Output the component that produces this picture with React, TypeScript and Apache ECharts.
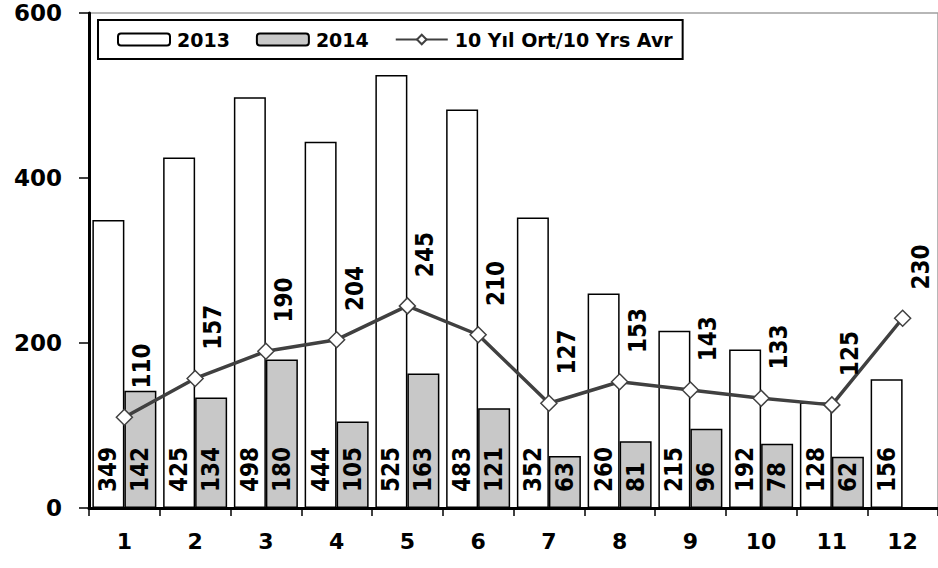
import React, { useEffect, useRef } from "react";
import * as echarts from "echarts";

const months = ["1", "2", "3", "4", "5", "6", "7", "8", "9", "10", "11", "12"];
const series2013 = [349, 425, 498, 444, 525, 483, 352, 260, 215, 192, 128, 156];
const series2014: (number | null)[] = [142, 134, 180, 105, 163, 121, 63, 81, 96, 78, 62, null];
const avg10 = [110, 157, 190, 204, 245, 210, 127, 153, 143, 133, 125, 230];
const yTicks = { min: 0, max: 600, interval: 200 };

const FONT = "DejaVu Sans";
const FONT_COND = "DejaVu Sans Condensed";

export default function App() {
  const ref = useRef<HTMLDivElement>(null);
  useEffect(() => {
    if (!ref.current) return;
    const chart = echarts.init(ref.current, undefined, { renderer: "svg" });
    const barLabel = {
      show: true,
      position: "insideBottom",
      rotate: 90,
      align: "left",
      verticalAlign: "middle",
      distance: 16,
      color: "#000",
      fontFamily: FONT_COND,
      fontWeight: "bold",
      fontSize: 24,
    };
    chart.setOption({
      animation: false,
      backgroundColor: "#fff",
      textStyle: { fontFamily: FONT },
      grid: {
        left: 89,
        right: -2,
        top: 13,
        bottom: 60,
        show: true,
        borderColor: "#a0a0a0",
        borderWidth: 1.5,
        backgroundColor: "transparent",
      },
      legend: {
        left: 98,
        top: 20,
        padding: [10, 10, 10, 19],
        itemWidth: 52,
        itemHeight: 12,
        itemGap: 26,
        borderColor: "#000",
        borderWidth: 2,
        backgroundColor: "#fff",
        textStyle: {
          fontFamily: FONT,
          fontWeight: "bold",
          fontSize: 19,
          color: "#000",
          padding: [0, 0, 0, 2],
        },
        data: ["2013", "2014", "10 Yıl Ort/10 Yrs Avr"],
      },
      xAxis: {
        type: "category",
        data: months,
        boundaryGap: true,
        axisLine: { show: true, lineStyle: { color: "#000", width: 3 } },
        axisTick: { show: true, length: 8, lineStyle: { color: "#000", width: 1.5 } },
        axisLabel: {
          color: "#000",
          fontFamily: FONT,
          fontWeight: "bold",
          fontSize: 22,
          margin: 22,
        },
        splitLine: { show: false },
      },
      yAxis: {
        type: "value",
        min: yTicks.min,
        max: yTicks.max,
        interval: yTicks.interval,
        axisLine: { show: true, lineStyle: { color: "#000", width: 3 } },
        axisTick: { show: true, length: 10, lineStyle: { color: "#000", width: 1.5 } },
        axisLabel: {
          color: "#000",
          fontFamily: FONT,
          fontWeight: "bold",
          fontSize: 23,
          margin: 27,
        },
        splitLine: { show: false },
      },
      series: [
        {
          name: "2013",
          type: "bar",
          data: series2013,
          barWidth: 32,
          barGap: "0%",
          itemStyle: { color: "#fff", borderColor: "#000", borderWidth: 1.5 },
          label: barLabel,
        },
        {
          name: "2014",
          type: "bar",
          data: series2014,
          barWidth: 32,
          barGap: "0%",
          itemStyle: { color: "#c8c8c8", borderColor: "#000", borderWidth: 1.5 },
          label: barLabel,
        },
        {
          name: "10 Yıl Ort/10 Yrs Avr",
          type: "line",
          data: avg10,
          symbol: "diamond",
          symbolSize: 16,
          lineStyle: { color: "#404040", width: 3.5 },
          itemStyle: { color: "#fff", borderColor: "#404040", borderWidth: 1.5 },
          label: {
            show: true,
            position: "top",
            rotate: 90,
            align: "left",
            verticalAlign: "middle",
            distance: 20,
            offset: [0, 18],
            color: "#000",
            fontFamily: FONT_COND,
            fontWeight: "bold",
            fontSize: 24,
          },
          z: 5,
        },
      ],
    });
    return () => chart.dispose();
  }, []);
  return (
    <div
      ref={ref}
      style={{ position: "absolute", left: 0, top: 0, width: 938, height: 568 }}
    />
  );
}
